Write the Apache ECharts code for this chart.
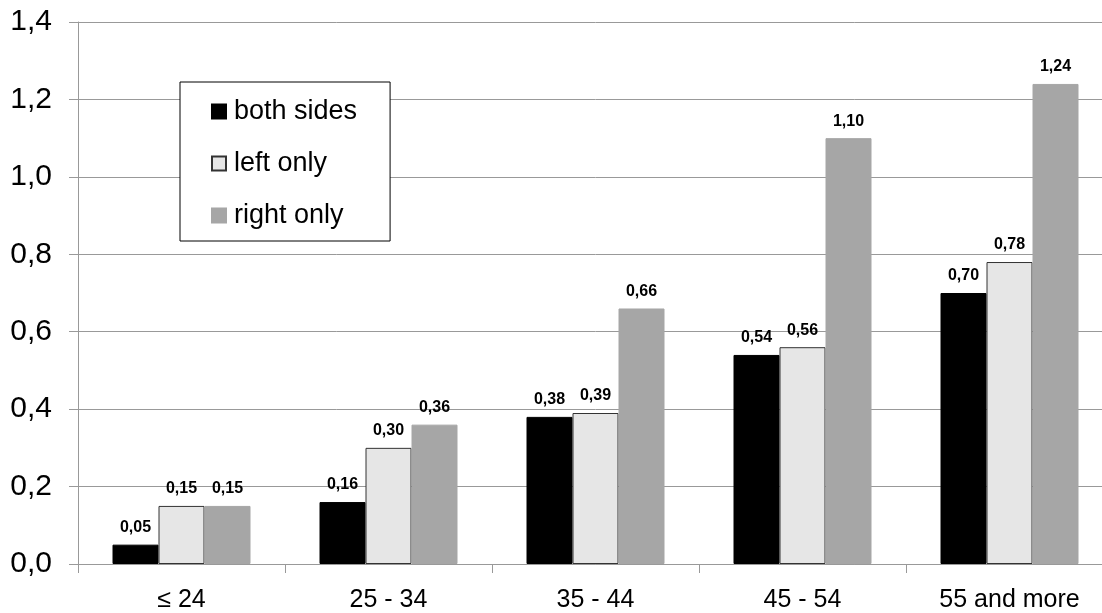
<!DOCTYPE html>
<html>
<head>
<meta charset="utf-8">
<script src="https://cdn.jsdelivr.net/npm/echarts@6/dist/echarts.min.js"></script>
<style>
  html, body { margin: 0; padding: 0; background: #fff; overflow: hidden; }
  /* the plot runs a little past the right edge of the window */
  #chart { width: 1113px; height: 613px; }
</style>
</head>
<body>
<div id="chart"></div>
<script>
// Age groups on the category axis
const ageGroups = ['\u2264 24', '25 - 34', '35 - 44', '45 - 54', '55 and more'];

// Values per group for each side
const bothSides = [0.05, 0.16, 0.38, 0.54, 0.70];
const leftOnly  = [0.15, 0.30, 0.39, 0.56, 0.78];
const rightOnly = [0.15, 0.36, 0.66, 1.10, 1.24];

const seriesNames = ['both sides', 'left only', 'right only'];

const FONT = '"Liberation Sans", Arial, sans-serif';
const comma = (v, d) => v.toFixed(d).replace('.', ',');

const valueLabel = {
  show: true,
  position: 'top',
  distance: 9,
  color: '#000',
  fontSize: 16,
  fontWeight: 'bold',
  fontFamily: FONT,
  formatter: p => comma(p.value, 2)
};

function barSeries(name, data, fill, border) {
  return {
    name: name,
    type: 'bar',
    data: data,
    barWidth: 46,
    barGap: '0%',
    itemStyle: { color: fill, borderColor: border, borderWidth: 1 },
    label: valueLabel,
    emphasis: { disabled: true }
  };
}

const chart = echarts.init(document.getElementById('chart'), null, { renderer: 'canvas' });

chart.setOption({
  animation: false,
  backgroundColor: '#fff',
  textStyle: { fontFamily: FONT },
  grid: { left: 78, top: 22, right: 0, height: 542, containLabel: false },
  legend: {
    orient: 'vertical',
    left: 180,
    top: 82,
    padding: [16, 33, 12, 31],
    backgroundColor: '#fff',
    borderColor: '#000',
    borderWidth: 1,
    borderRadius: 0,
    itemWidth: 14,
    itemHeight: 14,
    itemGap: 25,
    selectedMode: false,
    icon: 'rect',
    textStyle: { fontSize: 27, color: '#000', fontFamily: FONT, padding: [0, 0, 0, 3] },
    data: seriesNames
  },
  xAxis: {
    type: 'category',
    data: ageGroups,
    axisLine: { lineStyle: { color: '#999', width: 1 } },
    axisTick: { show: true, length: 9, lineStyle: { color: '#999' } },
    axisLabel: { fontSize: 25, color: '#000', margin: 24, fontFamily: FONT },
    splitLine: { show: false }
  },
  yAxis: {
    type: 'value',
    min: 0,
    max: 1.4,
    interval: 0.2,
    axisLine: { show: true, lineStyle: { color: '#999', width: 1 } },
    axisTick: { show: true, length: 9, lineStyle: { color: '#999' } },
    axisLabel: { fontSize: 30, color: '#000', margin: 26, fontFamily: FONT,
                 formatter: v => comma(v, 1) },
    splitLine: { show: true, lineStyle: { color: '#999', width: 1 } }
  },
  series: [
    barSeries(seriesNames[0], bothSides, '#000000', '#000000'),
    barSeries(seriesNames[1], leftOnly, '#e6e6e6', '#333333'),
    barSeries(seriesNames[2], rightOnly, '#a6a6a6', '#a6a6a6')
  ]
});
</script>
</body>
</html>
